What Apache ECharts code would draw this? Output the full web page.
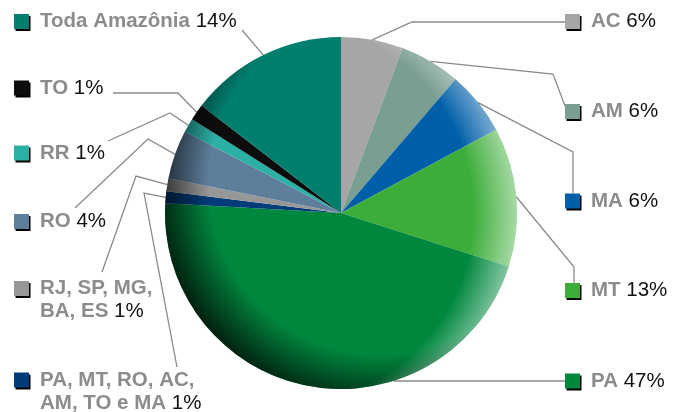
<!DOCTYPE html>
<html>
<head>
<meta charset="utf-8">
<script src="https://cdn.jsdelivr.net/npm/echarts@6/dist/echarts.min.js"></script>
<style>
  html, body { margin: 0; background: #fff; }
  #chart { width: 682px; height: 412px; }
</style>
</head>
<body>
<div id="chart"></div>
<script>
// slices, clockwise from 12 o'clock
const names = ['AC', 'AM', 'MA', 'MT', 'PA', 'PA, MT, RO, AC,\nAM, TO e MA', 'RJ, SP, MG,\nBA, ES', 'RO', 'RR', 'TO', 'Toda Amazônia']
const values = [5.7, 5.6, 5.9, 12.8, 46.1, 1.1, 1.2, 4.5, 1.3, 1.5, 14.6]
const pctLabels = ['6%', '6%', '6%', '13%', '47%', '1%', '1%', '4%', '1%', '1%', '14%']
const colors = ['#a6a6a6', '#7a9e90', '#005fa8', '#3dad3a', '#00873e', '#003c78', '#979797', '#5e7f9c', '#2bb0a5', '#0d0d0d', '#007f6e']

const cx = 341, cy = 213, R = 176
const font = '"Liberation Sans", Arial, sans-serif'

// where each label sits and how its leader line bends
// (flat: the line leaves the rim at the label's own height)
const spots = [
  { x: 565, y: 21.5, bend: [412, 22], end: [565, 22] },
  { x: 565, y: 111.5, bend: [553, 74], end: [565, 106] },
  { x: 565, y: 201, bend: [573, 152], end: [573, 193] },
  { x: 565, y: 290.5, bend: [574, 267], end: [574, 283] },
  { x: 565, y: 381, bend: null, end: [565, 381], flat: true },
  { x: 14, y: 391.5, bend: [144, 193], end: [177, 367] },
  { x: 14, y: 300, bend: [136, 176], end: [102, 272] },
  { x: 14, y: 221.5, bend: [148, 139], end: [75, 208] },
  { x: 14, y: 153, bend: [170, 113], end: [108, 141] },
  { x: 14, y: 88, bend: [178, 93], end: [113, 93] },
  { x: 14, y: 21.5, bend: null, end: [242, 30] }
]

const total = values.reduce((a, b) => a + b, 0)
function edgePoint(i) {
  const s = spots[i]
  if (s.flat) {
    const dy = s.end[1] - cy
    return [cx + Math.sqrt(R * R - dy * dy), s.end[1]]
  }
  let before = 0
  for (let k = 0; k < i; k++) before += values[k]
  const a = (before + values[i] / 2) / total * Math.PI * 2
  return [cx + R * Math.sin(a), cy - R * Math.cos(a)]
}

const rich = {
  n: { fontFamily: font, fontSize: 20.5, fontWeight: 'bold', color: '#8c8c8c', lineHeight: 23 },
  v: { fontFamily: font, fontSize: 20.5, color: '#111', lineHeight: 23 },
  g: { width: 11 },
  ind: { width: 26 }
}
colors.forEach((c, i) => {
  rich['s' + i] = {
    width: 15, height: 15, backgroundColor: c,
    shadowColor: '#000', shadowOffsetX: 1.5, shadowOffsetY: 2, shadowBlur: 0
  }
})

const chart = echarts.init(document.getElementById('chart'))
const pieData = names.map((n, i) => ({ name: n, value: values[i], itemStyle: { color: colors[i] } }))
const plain = names.map((n, i) => ({ name: n, value: values[i] }))

chart.setOption({
  animation: false,
  series: [
    {
      type: 'pie',
      center: [cx, cy],
      radius: R,
      startAngle: 90,
      clockwise: true,
      data: pieData,
      itemStyle: { borderWidth: 0 },
      label: {
        show: true,
        width: 300,
        overflow: 'none',
        rich: rich,
        formatter: (p) => {
          const i = p.dataIndex
          const lines = names[i].split('\n')
          return lines.map((l, k) => {
            const head = k === 0 ? '{s' + i + '|}{g|}' : '{ind|}'
            const tail = k === lines.length - 1 ? '{n|' + l + ' }{v|' + pctLabels[i] + '}' : '{n|' + l + '}'
            return head + tail
          }).join('\n')
        }
      },
      labelLine: { show: true, smooth: false, lineStyle: { color: '#8a8a8a', width: 1.3 } },
      labelLayout: (p) => {
        const s = spots[p.dataIndex]
        const start = edgePoint(p.dataIndex)
        const pts = s.bend ? [start, s.bend, s.end] : [start, s.end]
        return { x: s.x, y: s.y, align: 'left', verticalAlign: 'middle', labelLinePoints: pts }
      }
    },
    {
      // dark shading on the lower left rim
      type: 'pie', center: [cx, cy], radius: R, startAngle: 90, silent: true,
      data: plain, label: { show: false }, labelLine: { show: false },
      itemStyle: {
        borderWidth: 0,
        color: {
          type: 'radial', x: cx + 40, y: cy - 30, r: 232, global: true,
          colorStops: [
            { offset: 0, color: 'rgba(0,0,0,0)' },
            { offset: 0.74, color: 'rgba(0,0,0,0)' },
            { offset: 1, color: 'rgba(0,0,0,0.85)' }
          ]
        }
      }
    },
    {
      // light rim on the right
      type: 'pie', center: [cx, cy], radius: R, startAngle: 90, silent: true,
      data: plain, label: { show: false }, labelLine: { show: false },
      itemStyle: {
        borderWidth: 0,
        color: {
          type: 'radial', x: cx - 60, y: cy, r: 240, global: true,
          colorStops: [
            { offset: 0, color: 'rgba(255,255,255,0)' },
            { offset: 0.8, color: 'rgba(255,255,255,0)' },
            { offset: 1, color: 'rgba(255,255,255,0.6)' }
          ]
        }
      }
    }
  ]
})
</script>
</body>
</html>
